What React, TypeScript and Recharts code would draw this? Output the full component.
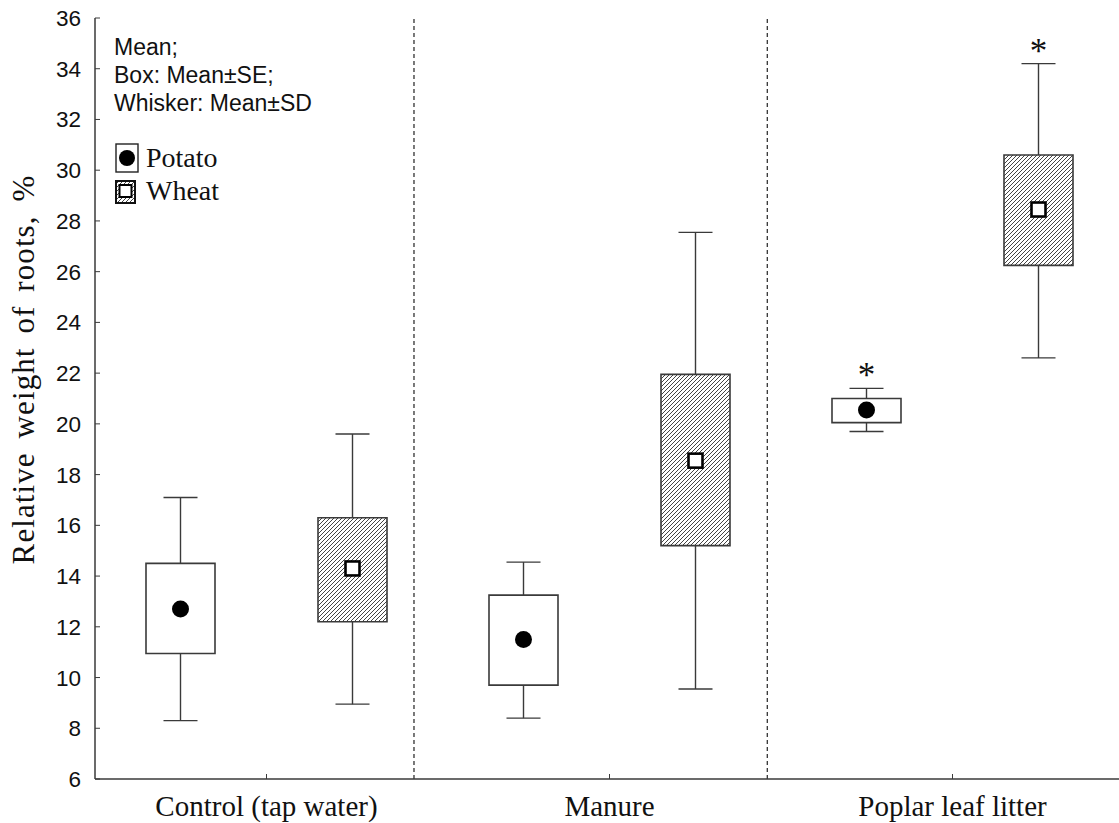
import React from 'react';
import { ComposedChart, Bar, XAxis, YAxis, ReferenceLine, LabelList } from 'recharts';

// categories
const groups = ['Control (tap water)', 'Manure', 'Poplar leaf litter'];
const slots = [0, 1, 2];

// Potato: mean, box = mean±SE, whisker = mean±SD
const potatoMean = [12.7, 11.5, 20.55];
const potatoSeLow = [10.95, 9.7, 20.05];
const potatoSeHigh = [14.5, 13.25, 21.0];
const potatoSdLow = [8.3, 8.4, 19.7];
const potatoSdHigh = [17.1, 14.55, 21.4];
const potatoMark = ['', '', '*'];

// Wheat
const wheatMean = [14.3, 18.55, 28.45];
const wheatSeLow = [12.2, 15.2, 26.25];
const wheatSeHigh = [16.3, 21.95, 30.6];
const wheatSdLow = [8.95, 9.55, 22.6];
const wheatSdHigh = [19.6, 27.55, 34.2];
const wheatMark = ['', '', '*'];

const yTicks = [6, 8, 10, 12, 14, 16, 18, 20, 22, 24, 26, 28, 30, 32, 34, 36];
// dotted separators, in category-index units, as placed in the original figure
const dividers = [0.43, 1.46];

const data = groups.map((group, i) => ({
  group,
  slot: slots[i],
  potatoMean: potatoMean[i],
  potatoSeLow: potatoSeLow[i],
  potatoSeHigh: potatoSeHigh[i],
  potatoSdLow: potatoSdLow[i],
  potatoSdHigh: potatoSdHigh[i],
  potatoMark: potatoMark[i],
  wheatMean: wheatMean[i],
  wheatSeLow: wheatSeLow[i],
  wheatSeHigh: wheatSeHigh[i],
  wheatSdLow: wheatSdLow[i],
  wheatSdHigh: wheatSdHigh[i],
  wheatMark: wheatMark[i],
}));

const SANS = '"Liberation Sans", Arial, sans-serif';
const SERIF = '"Liberation Serif", "Times New Roman", serif';
const LINE = '#3a3a3a';

const Whisker = (props: any) => {
  const { x, y, width, height } = props;
  const cx = x + width / 2;
  const cap = 17;
  return (
    <g stroke={LINE} strokeWidth={1.4}>
      <line x1={cx} y1={y} x2={cx} y2={y + height} />
      <line x1={cx - cap} y1={y} x2={cx + cap} y2={y} />
      <line x1={cx - cap} y1={y + height} x2={cx + cap} y2={y + height} />
    </g>
  );
};

const Dot = (props: any) => {
  const { x, y, width } = props;
  return <circle cx={x + width / 2} cy={y} r={8.5} fill="#000" />;
};

const OpenSquare = (props: any) => {
  const { x, y, width } = props;
  return <rect x={x + width / 2 - 7} y={y - 7} width={14} height={14} fill="#fff" stroke="#000" strokeWidth={2.6} />;
};

const Star = (props: any) => {
  const { value } = props;
  if (!value) return null;
  const vb = props.viewBox || props;
  const { x, y, width } = vb;
  return (
    <text x={x + width / 2} y={y - 1} textAnchor="middle" fontFamily={SERIF} fontSize={35} fill="#111">
      {value}
    </text>
  );
};

const YTitle = (props: any) => {
  const { x, y, height } = props.viewBox;
  const cx = x + 23;
  const cy = y + height / 2 - 29;
  return (
    <text
      x={cx}
      y={cy}
      transform={`rotate(-90 ${cx} ${cy})`}
      textAnchor="middle"
      dominantBaseline="central"
      fontFamily={SERIF}
      fontSize={31}
      wordSpacing={5}
      letterSpacing={1.1}
      fill="#111"
    >
      Relative weight of roots, %
    </text>
  );
};

const Overlay = () => (
  <svg width={1119} height={823} style={{ position: 'absolute', left: 0, top: 0, pointerEvents: 'none' }}>
    <g fontFamily={SANS} fontSize={23} fill="#111">
      <text x={114} y={55}>Mean;</text>
      <text x={114} y={83}>Box: Mean±SE;</text>
      <text x={114} y={111}>Whisker: Mean±SD</text>
    </g>
    <rect x={116} y={144} width={22} height={28} fill="#fff" stroke="#222" strokeWidth={1.4} />
    <circle cx={127} cy={158} r={8} fill="#000" />
    <rect x={116} y={181} width={19} height={22} fill="url(#hatch)" stroke="#111" strokeWidth={2} />
    <rect x={119.5} y={185} width={12} height={12} fill="#fff" stroke="#000" strokeWidth={2} />
    <g fontFamily={SERIF} fontSize={28} fill="#111">
      <text x={146} y={167}>Potato</text>
      <text x={146} y={200}>Wheat</text>
    </g>
  </svg>
);

export default function App() {
  return (
    <div style={{ position: 'absolute', left: 0, top: 0, width: 1119, height: 823, overflow: 'hidden', background: '#fff' }}>
      <svg width={0} height={0} style={{ position: 'absolute' }}>
        <defs>
          <pattern id="hatch" patternUnits="userSpaceOnUse" width={4} height={4}>
            <rect width={4} height={4} fill="#fff" />
            <path d="M-1,1 l2,-2 M0,4 l4,-4 M3,5 l2,-2" stroke="#444" strokeWidth={1} />
          </pattern>
        </defs>
      </svg>
      <ComposedChart width={1130} height={823} data={data} margin={{ top: 18, right: 6, bottom: 0, left: 0 }} barGap={103}>
        <XAxis
          xAxisId="main"
          dataKey="group"
          height={44}
          interval={0}
          tickSize={-5}
          tickMargin={21}
          axisLine={{ stroke: LINE, strokeWidth: 1.5 }}
          tickLine={{ stroke: LINE }}
          tick={{ fontFamily: SERIF, fontSize: 29, fill: '#111' }}
        />
        <XAxis
          xAxisId="top"
          dataKey="group"
          orientation="top"
          height={0}
          tick={false}
          tickSize={-5}
          axisLine={{ stroke: '#555', strokeWidth: 1.5 }}
          tickLine={{ stroke: LINE }}
        />
        <XAxis xAxisId="whisk" dataKey="group" hide />
        <XAxis xAxisId="mean" dataKey="group" hide />
        <XAxis xAxisId="num" dataKey="slot" type="number" domain={[-0.5, 2.5]} allowDataOverflow hide />
        <YAxis
          width={95}
          domain={[6, 36]}
          ticks={yTicks}
          interval={0}
          tickSize={-5}
          tickMargin={19}
          axisLine={{ stroke: LINE, strokeWidth: 1.5 }}
          tickLine={{ stroke: LINE }}
          tick={{ fontFamily: SANS, fontSize: 22.5, fill: '#111' }}
          label={{ content: <YTitle /> }}
        />
        <YAxis
          yAxisId="right"
          orientation="right"
          width={0}
          domain={[6, 36]}
          ticks={yTicks}
          interval={0}
          tick={false}
          tickSize={-4}
          axisLine={{ stroke: LINE }}
          tickLine={{ stroke: '#777' }}
        />
        {dividers.map((d) => (
          <ReferenceLine key={d} xAxisId="num" x={d} stroke="#222" strokeWidth={1.2} strokeDasharray="4 3" />
        ))}
        <Bar xAxisId="whisk" dataKey={(d: any) => [d.potatoSdLow, d.potatoSdHigh]} barSize={69} shape={Whisker} isAnimationActive={false}>
          <LabelList dataKey="potatoMark" content={Star} />
        </Bar>
        <Bar xAxisId="whisk" dataKey={(d: any) => [d.wheatSdLow, d.wheatSdHigh]} barSize={69} shape={Whisker} isAnimationActive={false}>
          <LabelList dataKey="wheatMark" content={Star} />
        </Bar>
        <Bar xAxisId="main" dataKey={(d: any) => [d.potatoSeLow, d.potatoSeHigh]} barSize={69} fill="#fff" stroke={LINE} strokeWidth={1.6} isAnimationActive={false} />
        <Bar xAxisId="main" dataKey={(d: any) => [d.wheatSeLow, d.wheatSeHigh]} barSize={69} fill="url(#hatch)" stroke={LINE} strokeWidth={1.6} isAnimationActive={false} />
        <Bar xAxisId="mean" dataKey={(d: any) => [d.potatoMean, d.potatoMean]} barSize={69} shape={Dot} isAnimationActive={false} />
        <Bar xAxisId="mean" dataKey={(d: any) => [d.wheatMean, d.wheatMean]} barSize={69} shape={OpenSquare} isAnimationActive={false} />
      </ComposedChart>
      <Overlay />
    </div>
  );
}
